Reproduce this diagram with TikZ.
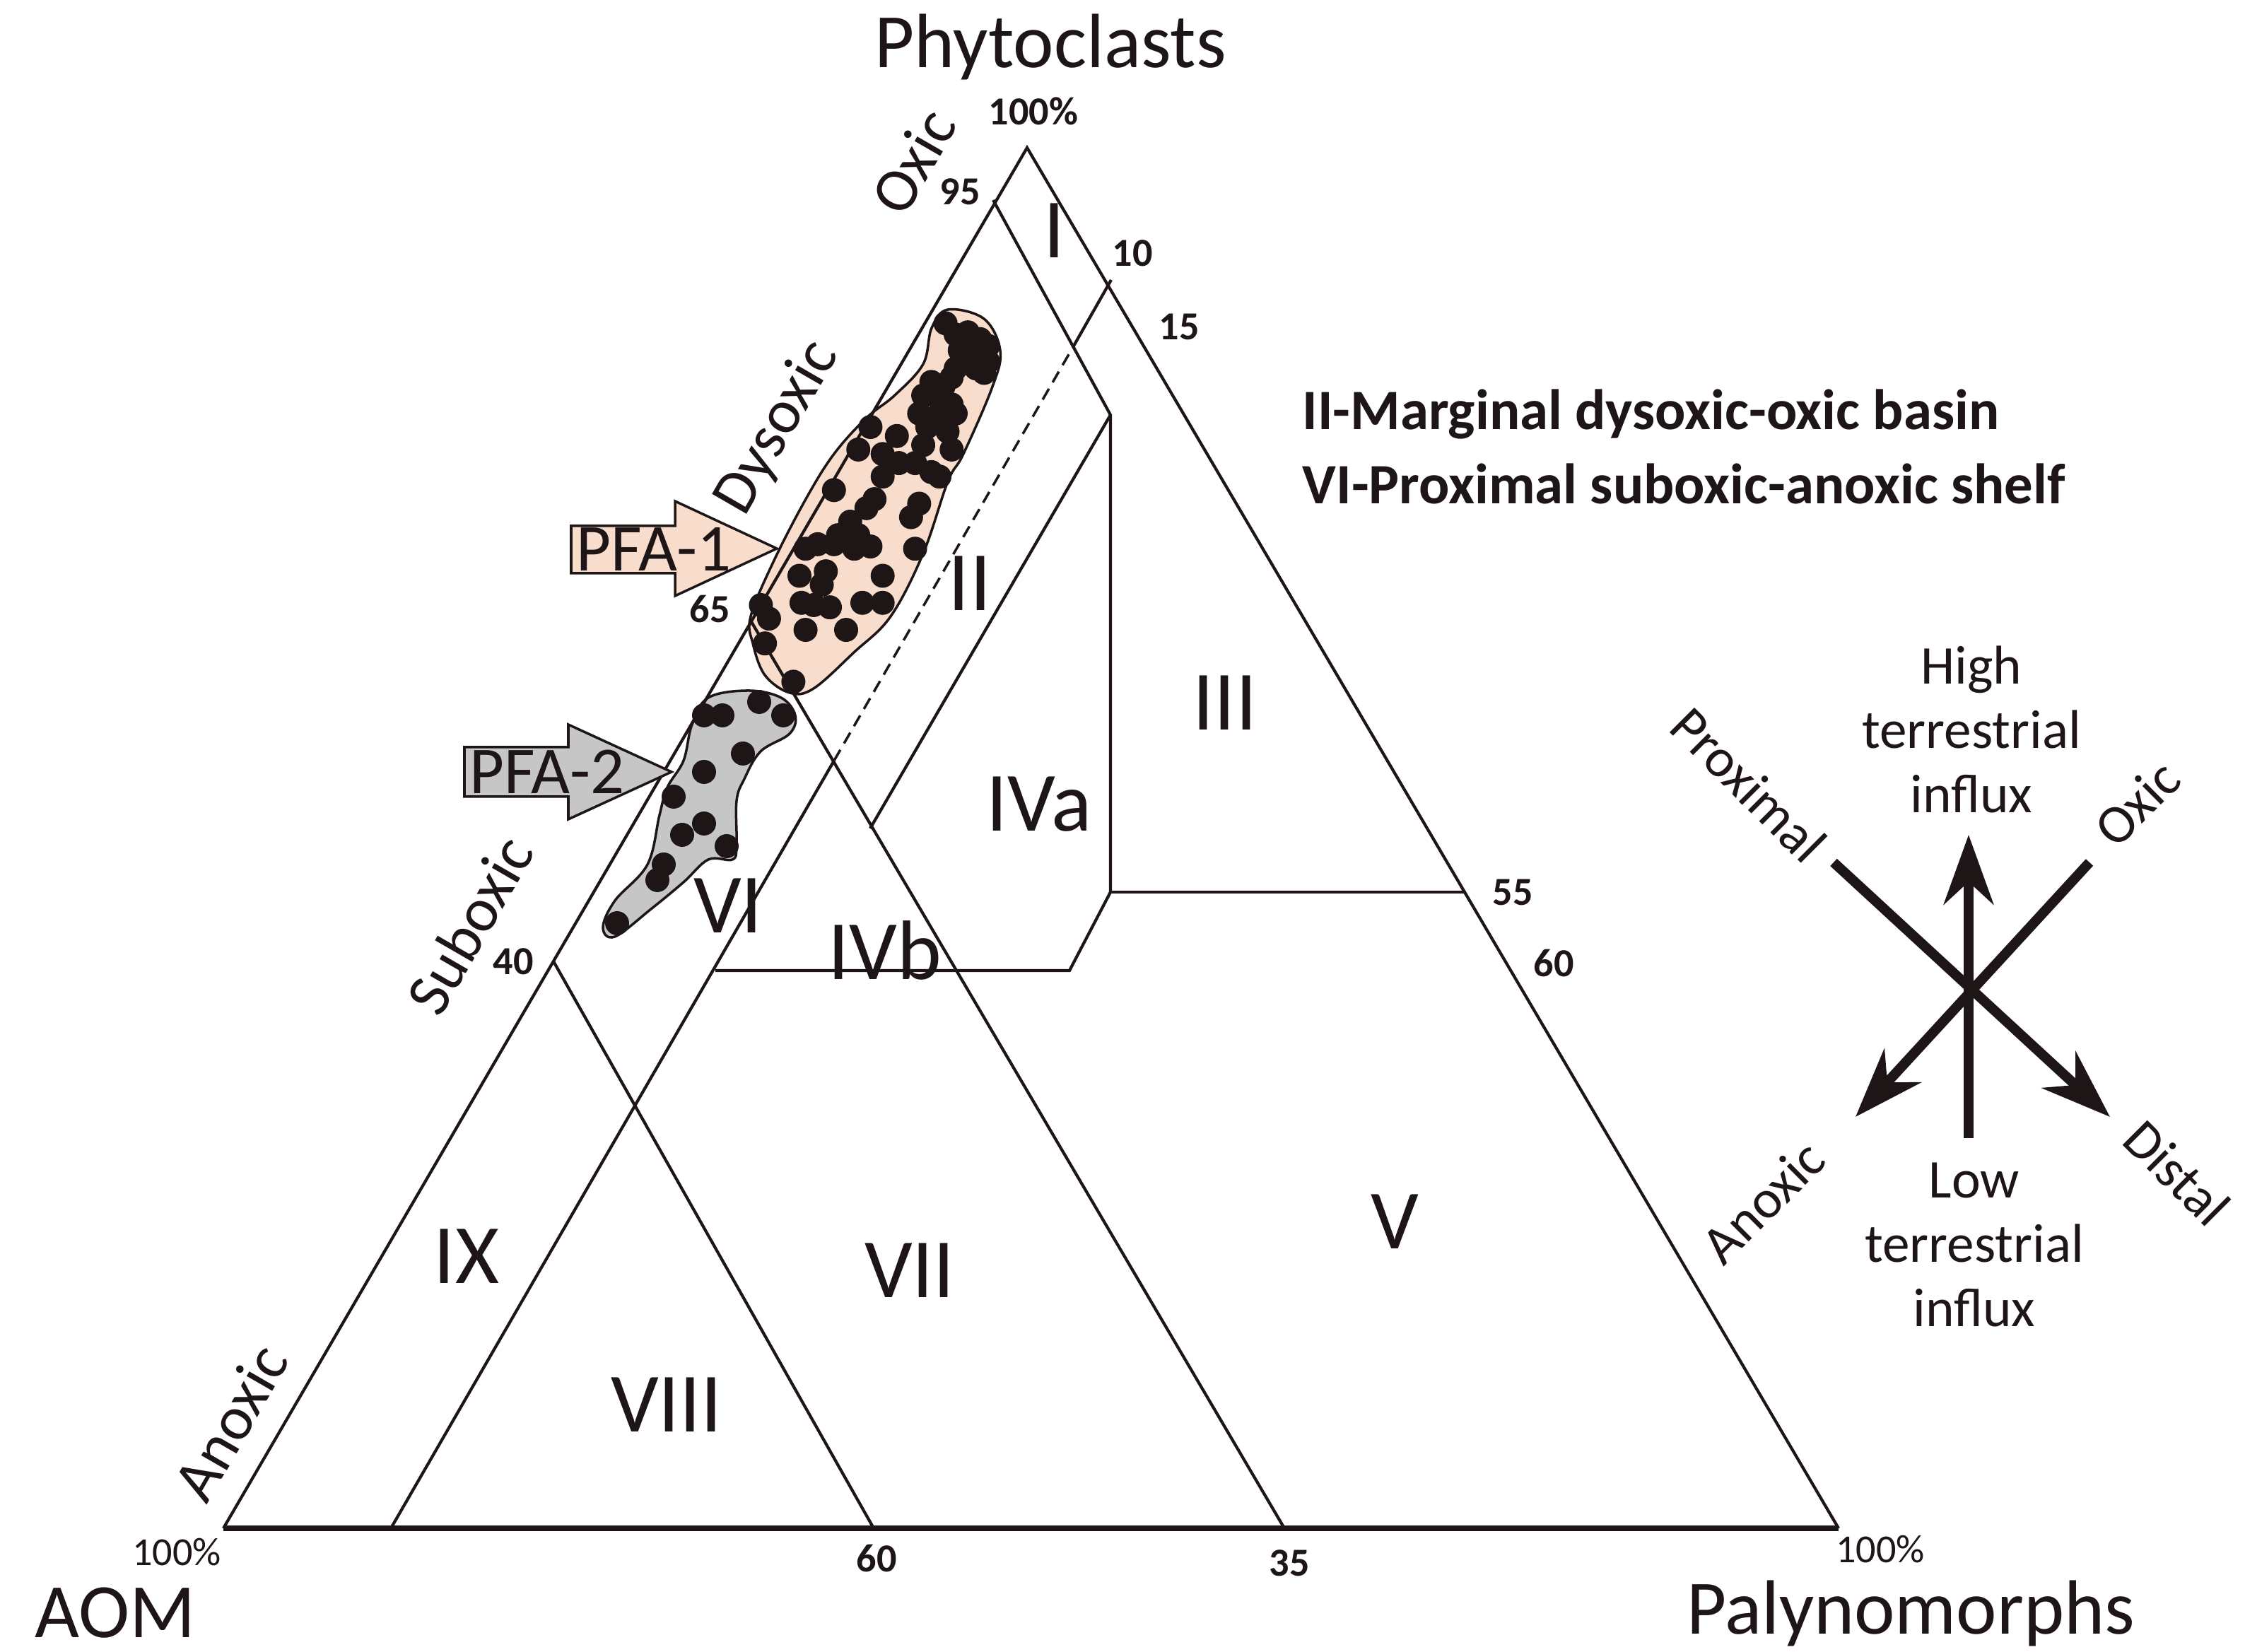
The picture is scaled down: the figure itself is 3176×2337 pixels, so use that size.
\documentclass[tikz,border=0pt]{standalone}
\usepackage{fontspec}
\setmainfont{Carlito}
\usetikzlibrary{arrows.meta}
\definecolor{peach}{RGB}{248,221,204}
\definecolor{pgray}{RGB}{198,198,198}
\definecolor{ink}{RGB}{30,22,22}
\begin{document}
\begin{tikzpicture}[x=0.005cm,y=-0.005cm,
  edge/.style={ink,line width=0.6pt},
  num/.style={font=\fontsize{8}{9}\selectfont\bfseries,text=ink},
  reg/.style={font=\fontsize{17}{19}\selectfont,text=ink},
  big/.style={font=\fontsize{15.5}{17}\selectfont,text=ink},
  side/.style={font=\fontsize{12.5}{14}\selectfont,text=ink,rotate=60},
  comp/.style={font=\fontsize{11}{13}\selectfont,text=ink,align=center},
  dot/.style={fill=ink},
  carrow/.style={ink,line width=2pt,-{Stealth[length=14pt,width=10pt]}},
  pfa/.style={draw=ink,line width=0.5pt},
  pfat/.style={font=\fontsize{13.5}{15}\selectfont,text=ink}]
\useasboundingbox (0,0) rectangle (3176,2337);
\coordinate (T) at (1453,209);
\coordinate (BL) at (316,2162);
\coordinate (BR) at (2601,2162);
\coordinate (p95) at (1405,283);
\coordinate (K1) at (1571,587);
\coordinate (K2) at (1571,1262);
\coordinate (K3) at (1513,1373);
\coordinate (H55) at (2072,1262);
\coordinate (H4) at (1012,1373);
\coordinate (IVt) at (1231,1172);
\coordinate (b10) at (553,2162);
\coordinate (r10) at (1572,396);
\coordinate (d1) at (1518,491);
\coordinate (d2) at (1180,1076);
\coordinate (l65) at (1062,878);
\coordinate (b35) at (1817,2162);
\coordinate (l40) at (783,1360);
\coordinate (b60) at (1236,2162);
% blobs
\draw[pfa,fill=peach] plot[smooth cycle,tension=0.6] coordinates {(1341,438)(1392,451)(1415,496)(1404,547)(1363,642)(1341,681)(1306,783)(1260,872)(1208,923)(1151,974)(1117,980)(1082,955)(1065,910)(1062,872)(1094,795)(1140,706)(1180,642)(1226,591)(1266,559)(1306,515)(1318,464)};
\draw[pfa,fill=pgray] plot[smooth cycle,tension=0.6] coordinates {(1002,987)(1059,977)(1105,987)(1125,1012)(1117,1038)(1076,1063)(1053,1102)(1042,1133)(1042,1197)(1036,1216)(1002,1216)(967,1248)(921,1286)(870,1325)(853,1312)(870,1274)(916,1223)(933,1153)(944,1114)(967,1076)(979,1025)};
% triangle
\draw[edge] (BL) -- (T) -- (BR);
\draw[ink,line width=1.1pt] (BL) -- (BR);
\draw[edge] (p95) -- (K1) -- (K2) -- (K3) -- (H4);
\draw[edge] (K2) -- (H55);
\draw[edge] (K1) -- (IVt);
\draw[edge] (b10) -- (d2);
\draw[edge,dash pattern=on 2.5pt off 1.5pt,line width=0.5pt] (d2) -- (d1);
\draw[edge] (d1) -- (r10);
\draw[edge] (l65) -- (b35);
\draw[edge] (l40) -- (b60);
% dots
\foreach \x/\y in {1285/90,1310/115,1340/110,1370/125,1390/140,1320/150,1350/160,1390/175,1310/190,1380/200,1250/220,1280/230,1230/250,1270/260,1300/270,1220/290,1260/300,1310/290,1240/320,1290/330,1100/320,1165/340,1130/380,1230/360,1300/370,1170/400,1210/400,1250/420,1070/370,1130/430,1270/430,1010/460,1110/480,1220/490,1090/500,1050/530,1200/520,1020/560,1070/560,940/590,970/580,1010/580,1060/590,1100/585,1210/590,925/650,980/670,1130/650,930/710,960/715,1000/720,1080/710,1130/710,830/715,940/770,1040/770,850/745,840/800,910/885,990/640,1330/130,1300/210,1360/190}
  \fill[dot] ({600+\x/1.742},{400+\y/1.568}) circle (0.085cm);
\foreach \x/\y in {996/1012,1022/1012,1074/993,1108/1012,1051/1066,996/1092,953/1127,996/1165,965/1181,1028/1197,939/1223,930/1245,873/1306}
  \fill[dot] (\x,\y) circle (0.085cm);
% PFA arrows
\draw[pfa,fill=peach] (808,744) -- (955,744) -- (955,709) -- (1099,776) -- (955,843) -- (955,811) -- (808,811) -- cycle;
\node[pfat] (pfa1) at (925,777) {PFA-1};
\draw[pfa,fill=pgray] (657,1057) -- (804,1057) -- (804,1025) -- (950,1092) -- (804,1159) -- (804,1127) -- (657,1127) -- cycle;
\node[pfat] (pfa2) at (774,1092) {PFA-2};
% numbers
\node[num] (n100t) at (1462,157) {100\%};
\node[num] (n95) at (1358,271) {95};
\node[num] (n10) at (1602,358) {10};
\node[num] (n15) at (1668,462) {15};
\node[num] (n65) at (1004,862) {65};
\node[num] (n40) at (726,1360) {40};
\node[num] (n55) at (2140,1262) {55};
\node[num] (n60r) at (2198,1363) {60};
\node[num,font=\fontsize{8}{9}\selectfont] (n100l) at (250,2196) {100\%};
\node[num,font=\fontsize{8}{9}\selectfont] (n100r) at (2660,2192) {100\%};
\node[num] (n60b) at (1240,2205) {60};
\node[num] (n35) at (1824,2211) {35};
% axis names
\node[big] (phy) at (1486,67) {Phytoclasts};
\node[big,anchor=west] (aom) at (25,2282) {AOM};
\node[big,anchor=east] (pal) at (3045,2282) {Palynomorphs};
% side labels
\node[side] (oxl) at (1292,228) {Oxic};
\node[side] (dys) at (1100,605) {Dysoxic};
\node[side] (sub) at (664,1308) {Suboxic};
\node[side] (anx) at (326,2012) {Anoxic};
% regions
\node[reg] (rI) at (1492,326) {I};
\node[reg] (rII) at (1372,825) {II};
\node[reg] (rIII) at (1733,994) {III};
\node[reg] (rIVa) at (1470,1138) {IVa};
\node[reg] (rIVb) at (1252,1344) {IVb};
\node[reg] (rVI) at (1030,1281) {VI};
\node[reg] (rIX) at (660,1777) {IX};
\node[reg] (rVII) at (1287,1797) {VII};
\node[reg] (rVIII) at (943,1987) {VIII};
\node[reg] (rV) at (1973,1728) {V};
% legend
\node[font=\fontsize{11.5}{13}\selectfont\bfseries,text=ink,anchor=west] (l1) at (1818,586) {II-Marginal dysoxic-oxic basin};
\node[font=\fontsize{11.5}{13}\selectfont\bfseries,text=ink,anchor=west] (l2) at (1818,684) {VI-Proximal suboxic-anoxic shelf};
% compass
\coordinate (cU1) at (2785,1610);
\coordinate (cU2) at (2785,1181);
\coordinate (cA1) at (2594,1220);
\coordinate (cA2) at (2985,1580);
\coordinate (cB1) at (2956,1220);
\coordinate (cB2) at (2625,1580);
\draw[carrow] (cU1) -- (cU2);
\draw[carrow] (cA1) -- (cA2);
\draw[carrow] (cB1) -- (cB2);
\node[comp] (hi) at (2789,1032) {High\\terrestrial\\influx};
\node[comp] (lo) at (2793,1761) {Low\\terrestrial\\influx};
\node[comp,rotate=-45] (prox) at (2474,1110) {Proximal};
\node[comp,rotate=45] (oxr) at (3023,1136) {Oxic};
\node[comp,rotate=45] (anr) at (2494,1700) {Anoxic};
\node[comp,rotate=-45] (dis) at (3080,1659) {Distal};
\end{tikzpicture}
\end{document}
